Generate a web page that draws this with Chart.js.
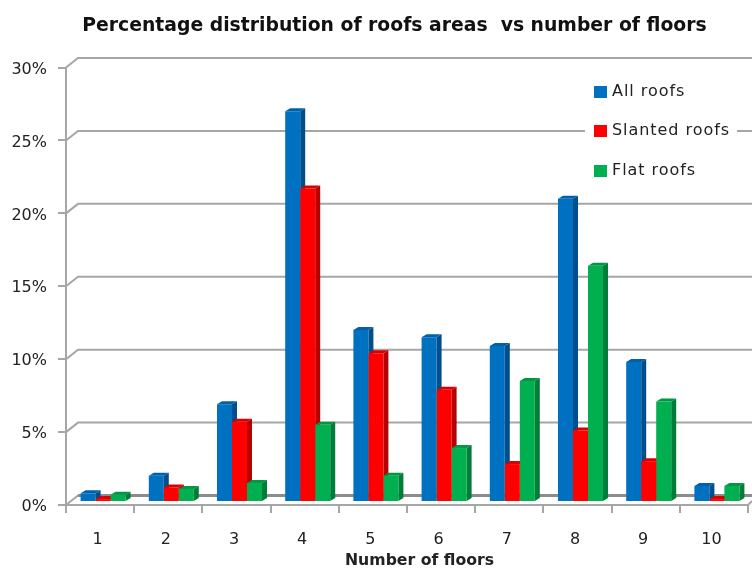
<!DOCTYPE html>
<html>
<head>
<meta charset="utf-8">
<style>
html, body { margin: 0; padding: 0; background: #fff; }
#wrap { width: 752px; height: 570px; overflow: hidden; }
#roofChart { filter: blur(0.45px); }
</style>
<script src="https://cdn.jsdelivr.net/npm/chart.js@4"></script>
</head>
<body>
<div id="wrap"><canvas id="roofChart" width="752" height="570"></canvas></div>
<script>
var floors = ['1', '2', '3', '4', '5', '6', '7', '8', '9', '10'];
var allRoofs = [0.6, 1.8, 6.7, 26.8, 11.8, 11.3, 10.7, 20.8, 9.6, 1.1];
var slantedRoofs = [0.2, 1.0, 5.5, 21.5, 10.2, 7.7, 2.6, 4.9, 2.8, 0.2];
var flatRoofs = [0.5, 0.9, 1.3, 5.3, 1.8, 3.7, 8.3, 16.2, 6.9, 1.1];
var xAxisTitle = 'Number of floors';

var frontColors = ['#0070c0', '#ff0000', '#00b050'];
var sideColors = ['#004f8c', '#b80000', '#007d39'];
var topColors = ['#0060a8', '#d80000', '#009644'];
var gridColor = '#a6a6a6';
var fontName = '"DejaVu Sans"';

// the 3d look: back wall offset and bar depth
var wallX = 12, wallY = 9.5;
var depthX = 5, depthY = 3;
var barShiftX = 3, barShiftY = -3;

var wallPlugin = {
    id: 'wall',
    afterLayout(chart) {
        // title is not centred on the canvas in the original
        chart.titleBlock.left += 41;
    },
    beforeDatasetsDraw(chart) {
        var ctx = chart.ctx;
        var y = chart.scales.y;
        var area = chart.chartArea;
        var zero = y.getPixelForValue(0);
        ctx.save();
        ctx.strokeStyle = gridColor;
        ctx.lineWidth = 2;
        y.ticks.forEach(t => {
            var py = y.getPixelForValue(t.value);
            ctx.beginPath();
            ctx.moveTo(area.left, py);
            ctx.lineTo(area.left + wallX, py - wallY);
            ctx.lineTo(752, py - wallY);
            ctx.stroke();
        });
        // back edge of the floor is heavier
        ctx.strokeStyle = '#8c8c8c';
        ctx.lineWidth = 3;
        ctx.beginPath();
        ctx.moveTo(area.left + wallX, zero - wallY);
        ctx.lineTo(752, zero - wallY);
        ctx.stroke();
        ctx.strokeStyle = gridColor;
        ctx.lineWidth = 2;
        ctx.beginPath();
        ctx.moveTo(area.left, y.getPixelForValue(30));
        ctx.lineTo(area.left, zero);
        ctx.lineTo(area.right, zero);
        ctx.lineTo(752, zero - 4);
        ctx.stroke();
        ctx.restore();

        // bars sit a little behind the front edge of the floor
        ctx.save();
        ctx.translate(barShiftX, barShiftY);
        chart.data.datasets.forEach((ds, i) => {
            chart.getDatasetMeta(i).data.forEach(bar => {
                var l = bar.x - bar.width / 2, r = bar.x + bar.width / 2;
                ctx.fillStyle = topColors[i];
                ctx.beginPath();
                ctx.moveTo(l, bar.y);
                ctx.lineTo(l + depthX, bar.y - depthY);
                ctx.lineTo(r + depthX, bar.y - depthY);
                ctx.lineTo(r, bar.y);
                ctx.fill();
                ctx.fillStyle = sideColors[i];
                ctx.beginPath();
                ctx.moveTo(r, bar.y);
                ctx.lineTo(r + depthX, bar.y - depthY);
                ctx.lineTo(r + depthX, bar.base - depthY);
                ctx.lineTo(r, bar.base);
                ctx.fill();
            });
        });
    },
    afterDatasetsDraw(chart) {
        var ctx = chart.ctx;
        ctx.restore();

        // legend box covers the wall lines
        var labelX = 612, rowY = [92, 131, 171];
        ctx.save();
        ctx.fillStyle = '#fff';
        ctx.fillRect(585, 75, 152, 112);
        ctx.font = '16px ' + fontName;
        ctx.letterSpacing = '0.95px';
        ctx.textBaseline = 'middle';
        chart.data.datasets.forEach((ds, i) => {
            ctx.fillStyle = frontColors[i];
            ctx.fillRect(594, rowY[i] - 6, 13, 12);
            ctx.fillStyle = '#222';
            ctx.fillText(ds.label, labelX, rowY[i]);
        });
        ctx.letterSpacing = '0px';

        // axis title sits right of the centre of the axis
        ctx.font = 'bold 15.7px ' + fontName;
        ctx.textAlign = 'center';
        ctx.fillStyle = '#222';
        ctx.fillText(xAxisTitle, 419.5, 561);
        ctx.restore();
    }
};

new Chart(document.getElementById('roofChart'), {
    type: 'bar',
    data: {
        labels: floors,
        datasets: [
            { label: 'All roofs', data: allRoofs, backgroundColor: frontColors[0] },
            { label: 'Slanted roofs', data: slantedRoofs, backgroundColor: frontColors[1] },
            { label: 'Flat roofs', data: flatRoofs, backgroundColor: frontColors[2] }
        ]
    },
    options: {
        responsive: false,
        animation: false,
        layout: { padding: { left: 0, right: 4, top: 0, bottom: 0 } },
        datasets: { bar: { barPercentage: 1, categoryPercentage: 0.66, clip: false } },
        plugins: {
            legend: { display: false },
            tooltip: { enabled: false },
            title: {
                display: true,
                text: 'Percentage distribution of roofs areas  vs number of floors',
                color: '#111',
                font: { family: fontName, size: 18.8, weight: 'bold' },
                padding: { top: 15, bottom: 30 }
            }
        },
        scales: {
            x: {
                afterFit(s) { s.height = 65; },
                grid: { display: true, drawOnChartArea: false, color: gridColor, lineWidth: 2, tickLength: 8 },
                border: { display: false },
                ticks: { color: '#222', font: { family: fontName, size: 16 }, padding: 17, maxRotation: 0, labelOffset: -2.5 }
            },
            y: {
                min: 0,
                max: 30,
                afterFit(s) { s.width = 66; },
                grid: { display: true, drawOnChartArea: false, color: gridColor, lineWidth: 2, tickLength: 8 },
                border: { display: false },
                ticks: {
                    stepSize: 5,
                    color: '#222',
                    padding: 11,
                    labelOffset: 2,
                    font: { family: fontName, size: 16 },
                    callback: v => v + '%'
                }
            }
        }
    },
    plugins: [wallPlugin]
});
</script>
</body>
</html>
